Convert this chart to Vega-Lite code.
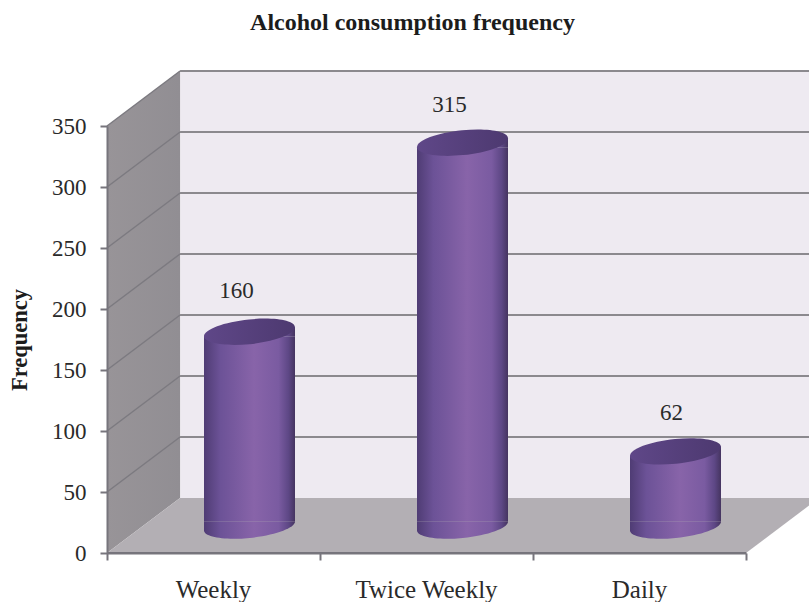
{
  "$schema": "https://vega.github.io/schema/vega-lite/v6.json",
  "width": 639,
  "height": 427,
  "autosize": {"type": "none"},
  "padding": {"left": 107, "top": 126, "right": 63, "bottom": 49},
  "background": "white",
  "title": {
    "text": "Alcohol consumption frequency",
    "anchor": "middle",
    "frame": "group",
    "dx": -14,
    "offset": 35,
    "font": "Liberation Serif",
    "fontSize": 24,
    "fontWeight": "bold",
    "color": "#1c1c1c"
  },
  "datasets": {
    "consumption": [
      {"category": "Weekly", "frequency": 160},
      {"category": "Twice Weekly", "frequency": 315},
      {"category": "Daily", "frequency": 62}
    ],
    "levels": [
      {"level": 0}, {"level": 50}, {"level": 100}, {"level": 150},
      {"level": 200}, {"level": 250}, {"level": 300}, {"level": 350}
    ],
    "sideWall": [
      {"slot": 0, "low": 0, "high": 350},
      {"slot": 0.343, "low": 45.1, "high": 395.1}
    ],
    "floor": [
      {"level": 0, "near": 0, "far": 3},
      {"level": 45.1, "near": 0.343, "far": 3.343}
    ]
  },
  "resolve": {"scale": {"x": "independent"}},
  "layer": [
    {
      "data": {"values": [{"from": 0.343, "to": 3.3, "low": 45.1, "high": 395.1}]},
      "mark": {"type": "rect", "fill": "#eeeaf1"},
      "encoding": {
        "x": {"field": "from", "type": "quantitative", "scale": {"domain": [0, 3], "nice": false, "zero": false}, "axis": null},
        "x2": {"field": "to"},
        "y": {"field": "low", "type": "quantitative", "scale": {"domain": [0, 350], "nice": false}, "axis": {"values": [0, 50, 100, 150, 200, 250, 300, 350], "title": "Frequency", "titleFont": "Liberation Serif", "titleFontSize": 22.5, "titleFontWeight": "bold", "titleColor": "#1c1c1c", "titlePadding": 20, "labelFont": "Liberation Serif", "labelFontSize": 23, "labelColor": "#2a2a2a", "labelPadding": 14, "tickSize": 7, "tickWidth": 2, "tickColor": "#77757c", "domainColor": "#77757c", "domainWidth": 2, "grid": false, "zindex": 1}},
        "y2": {"field": "high"}
      }
    },
    {
      "data": {"name": "sideWall"},
      "mark": {"type": "area", "fill": {"x1": 0, "y1": 0, "x2": 1, "y2": 0, "gradient": "linear", "stops": [{"offset": 0, "color": "#989498"}, {"offset": 1, "color": "#918e93"}]}},
      "encoding": {
        "x": {"field": "slot", "type": "quantitative", "scale": {"domain": [0, 3], "nice": false, "zero": false}, "axis": null},
        "y": {"field": "low", "type": "quantitative"},
        "y2": {"field": "high"}
      }
    },
    {
      "data": {"name": "floor"},
      "mark": {"type": "area", "orient": "horizontal", "fill": "#b3afb4"},
      "encoding": {
        "y": {"field": "level", "type": "quantitative"},
        "x": {"field": "near", "type": "quantitative", "scale": {"domain": [0, 3], "nice": false, "zero": false}, "axis": null},
        "x2": {"field": "far"}
      }
    },
    {
      "data": {"name": "levels"},
      "transform": [{"filter": "datum.level > 0"}],
      "mark": {"type": "rule", "color": "#8b898e", "strokeWidth": 2, "yOffset": -55, "y2Offset": -55},
      "encoding": {
        "x": {"datum": 0.343, "type": "quantitative", "scale": {"domain": [0, 3], "nice": false, "zero": false}, "axis": null},
        "x2": {"datum": 3.3},
        "y": {"field": "level", "type": "quantitative"},
        "y2": {"field": "level"}
      }
    },
    {
      "data": {"name": "levels"},
      "transform": [{"filter": "datum.level > 0"}],
      "mark": {"type": "rule", "color": "#7c7a80", "strokeWidth": 1.5, "y2Offset": -55},
      "encoding": {
        "x": {"datum": 0, "type": "quantitative", "scale": {"domain": [0, 3], "nice": false, "zero": false}, "axis": null},
        "x2": {"datum": 0.343},
        "y": {"field": "level", "type": "quantitative"},
        "y2": {"field": "level"}
      }
    },
    {
      "data": {"name": "levels"},
      "transform": [{"filter": "datum.level === 0"}],
      "mark": {"type": "rule", "color": "#77757c", "strokeWidth": 2},
      "encoding": {
        "x": {"datum": 0, "type": "quantitative", "scale": {"domain": [0, 3], "nice": false, "zero": false}, "axis": {"values": [0, 1, 2, 3], "orient": "bottom", "labels": false, "title": null, "tickSize": 7, "tickWidth": 2, "tickColor": "#77757c", "domainColor": "#77757c", "domainWidth": 2, "grid": false, "zindex": 1}},
        "x2": {"datum": 3},
        "y": {"field": "level", "type": "quantitative"}
      }
    },
    {
      "description": "Curved foot of each cylinder, widened upward to meet the body",
      "data": {"name": "consumption"},
      "mark": {"type": "point", "filled": true, "opacity": 1, "size": 8281, "xOffset": 36, "yOffset": -27, "shape": "M1,-0.1 A1,0.26,-6,0,1,-1,0.1 L-1,-0.1 Z", "fill": {"x1": 0, "y1": 0, "x2": 1, "y2": 0, "gradient": "linear", "stops": [{"offset": 0, "color": "#4f3c74"}, {"offset": 0.18, "color": "#6c5297"}, {"offset": 0.55, "color": "#8864a9"}, {"offset": 0.82, "color": "#7a5ba1"}, {"offset": 0.93, "color": "#5d4785"}, {"offset": 1, "color": "#453460"}]}},
      "encoding": {
        "x": {"field": "category", "type": "nominal", "sort": ["Weekly", "Twice Weekly", "Daily"], "axis": null},
        "y": {"datum": 0, "type": "quantitative"}
      }
    },
    {
      "description": "Cylinder body, cut short so the tilted cap and foot close it",
      "data": {"name": "consumption"},
      "mark": {"type": "bar", "width": 91, "xOffset": 36, "yOffset": -21.5, "y2Offset": -31.5, "fill": {"x1": 0, "y1": 0, "x2": 1, "y2": 0, "gradient": "linear", "stops": [{"offset": 0, "color": "#4f3c74"}, {"offset": 0.18, "color": "#6c5297"}, {"offset": 0.55, "color": "#8864a9"}, {"offset": 0.82, "color": "#7a5ba1"}, {"offset": 0.93, "color": "#5d4785"}, {"offset": 1, "color": "#453460"}]}},
      "encoding": {
        "x": {"field": "category", "type": "nominal", "sort": ["Weekly", "Twice Weekly", "Daily"], "axis": {"orient": "bottom", "title": null, "labelAngle": 0, "labelFont": "Liberation Serif", "labelFontSize": 25, "labelColor": "#2a2a2a", "labelPadding": 24, "ticks": false, "domain": false, "grid": false, "zindex": 1}},
        "y": {"field": "frequency", "type": "quantitative"},
        "y2": {"datum": 0}
      }
    },
    {
      "description": "Shoulder that fills the body up to the tilted rim",
      "data": {"name": "consumption"},
      "mark": {"type": "point", "filled": true, "opacity": 1, "size": 8281, "xOffset": 36, "yOffset": -26, "shape": "M-1,0.1 L1,-0.1 L1,0.1 Z", "fill": {"x1": 0, "y1": 0, "x2": 1, "y2": 0, "gradient": "linear", "stops": [{"offset": 0, "color": "#4f3c74"}, {"offset": 0.18, "color": "#6c5297"}, {"offset": 0.55, "color": "#8864a9"}, {"offset": 0.82, "color": "#7a5ba1"}, {"offset": 0.93, "color": "#5d4785"}, {"offset": 1, "color": "#453460"}]}},
      "encoding": {
        "x": {"field": "category", "type": "nominal", "sort": ["Weekly", "Twice Weekly", "Daily"], "axis": null},
        "y": {"field": "frequency", "type": "quantitative"}
      }
    },
    {
      "description": "Top cap of each cylinder",
      "data": {"name": "consumption"},
      "mark": {"type": "point", "filled": true, "opacity": 1, "size": 8281, "xOffset": 36, "yOffset": -26, "shape": "M-1,0.1 A1,0.27,-6,1,1,1,-0.1 A1,0.27,-6,1,1,-1,0.1 Z", "fill": {"x1": 0, "y1": 0, "x2": 1, "y2": 0, "gradient": "linear", "stops": [{"offset": 0, "color": "#5f4788"}, {"offset": 0.5, "color": "#56407c"}, {"offset": 1, "color": "#4d3970"}]}},
      "encoding": {
        "x": {"field": "category", "type": "nominal", "sort": ["Weekly", "Twice Weekly", "Daily"], "axis": null},
        "y": {"field": "frequency", "type": "quantitative"}
      }
    },
    {
      "data": {"name": "consumption"},
      "mark": {"type": "text", "font": "Liberation Serif", "fontSize": 23, "color": "#2a2a2a", "xOffset": {"expr": "datum.category === 'Daily' ? 32 : 23"}, "yOffset": {"expr": "datum.category === 'Weekly' ? -67 : -64"}},
      "encoding": {
        "x": {"field": "category", "type": "nominal", "sort": ["Weekly", "Twice Weekly", "Daily"], "axis": null},
        "y": {"field": "frequency", "type": "quantitative"},
        "text": {"field": "frequency", "type": "quantitative"}
      }
    }
  ]
}
